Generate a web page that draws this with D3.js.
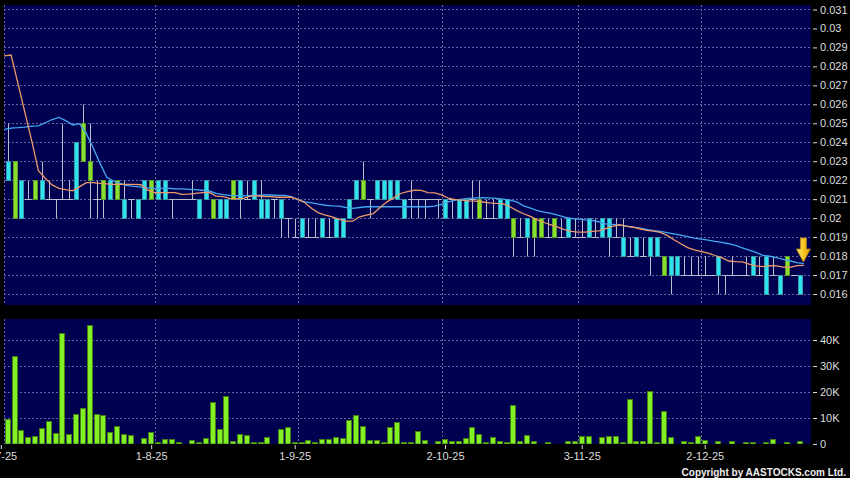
<!DOCTYPE html>
<html><head><meta charset="utf-8">
<script src="https://cdn.jsdelivr.net/npm/d3@7"></script>
<style>
html,body{margin:0;padding:0;background:#000;}
svg{display:block;font-family:"Liberation Sans",Arial,sans-serif;}
</style></head><body>
<svg id="chart" width="850" height="478"></svg>
<script>
// ---------- DATA (one entry per trading day, index 0..116) ----------
const priceOpen = [0.022,0.023,0.020,0.021,0.022,0.021,0.021,0.021,0.021,0.021,
0.021,0.025,0.023,0.021,0.022,0.021,0.022,0.020,0.021,0.020,
0.021,0.022,0.021,0.021,0.021,0.021,0.021,0.021,0.020,0.021,
0.021,0.020,0.020,0.022,0.021,0.021,0.021,0.020,0.020,0.021,
0.020,0.020,0.019,0.019,0.019,0.019,0.019,0.019,0.019,0.019,
0.020,0.021,0.022,0.021,0.021,0.021,0.021,0.021,0.020,0.021,
0.021,0.021,0.021,0.021,0.020,0.021,0.020,0.020,0.021,0.021,
0.020,0.020,0.020,0.020,0.020,0.019,0.019,0.020,0.020,0.019,
0.020,0.019,0.019,0.019,0.019,0.019,0.019,0.019,0.019,0.019,
0.018,0.018,0.018,0.018,0.018,0.018,0.018,0.017,0.017,0.017,
0.017,0.017,0.017,0.017,0.017,0.017,0.017,0.017,0.017,0.017,
0.017,0.016,0.017,0.016,0.018,0.017,0.016];
const priceHigh = [0.025,0.023,0.022,0.022,0.022,0.023,0.022,0.021,0.025,0.022,
0.024,0.026,0.025,0.022,0.022,0.022,0.022,0.022,0.021,0.021,
0.022,0.022,0.022,0.022,0.021,0.021,0.021,0.022,0.021,0.022,
0.021,0.021,0.021,0.022,0.022,0.022,0.022,0.022,0.021,0.021,
0.021,0.020,0.020,0.020,0.020,0.020,0.020,0.020,0.020,0.020,
0.021,0.022,0.023,0.021,0.022,0.022,0.022,0.022,0.021,0.022,
0.021,0.021,0.021,0.021,0.021,0.021,0.021,0.021,0.022,0.022,
0.021,0.021,0.021,0.021,0.020,0.020,0.020,0.020,0.020,0.020,
0.020,0.020,0.020,0.020,0.020,0.020,0.020,0.020,0.020,0.020,
0.020,0.019,0.019,0.019,0.019,0.019,0.018,0.018,0.018,0.018,
0.018,0.018,0.018,0.017,0.018,0.017,0.018,0.017,0.018,0.018,
0.018,0.018,0.018,0.017,0.018,0.017,0.017];
const priceLow = [0.022,0.020,0.020,0.021,0.021,0.021,0.021,0.020,0.021,0.021,
0.021,0.023,0.020,0.020,0.020,0.021,0.021,0.020,0.020,0.020,
0.021,0.021,0.021,0.021,0.020,0.021,0.021,0.021,0.020,0.021,
0.020,0.020,0.020,0.021,0.020,0.021,0.021,0.020,0.020,0.020,
0.019,0.019,0.019,0.019,0.019,0.019,0.019,0.019,0.019,0.019,
0.020,0.021,0.021,0.020,0.021,0.021,0.021,0.021,0.020,0.020,
0.020,0.020,0.021,0.020,0.020,0.020,0.020,0.020,0.020,0.020,
0.020,0.020,0.020,0.020,0.018,0.019,0.018,0.018,0.019,0.019,
0.019,0.019,0.019,0.019,0.019,0.019,0.019,0.019,0.018,0.019,
0.018,0.018,0.018,0.018,0.017,0.018,0.017,0.016,0.017,0.017,
0.017,0.017,0.017,0.017,0.016,0.016,0.017,0.017,0.017,0.017,
0.017,0.016,0.017,0.016,0.017,0.017,0.016];
const priceClose = [0.023,0.020,0.022,0.021,0.021,0.022,0.021,0.021,0.021,0.021,
0.024,0.023,0.022,0.021,0.021,0.022,0.021,0.021,0.021,0.021,
0.022,0.021,0.022,0.022,0.021,0.021,0.021,0.021,0.021,0.022,
0.020,0.021,0.021,0.021,0.022,0.021,0.022,0.021,0.021,0.021,
0.021,0.020,0.019,0.020,0.019,0.019,0.020,0.019,0.020,0.020,
0.021,0.022,0.021,0.021,0.022,0.022,0.022,0.022,0.021,0.021,
0.021,0.021,0.021,0.021,0.021,0.021,0.021,0.021,0.021,0.020,
0.020,0.020,0.021,0.021,0.019,0.019,0.020,0.019,0.019,0.019,
0.019,0.019,0.020,0.019,0.019,0.020,0.019,0.020,0.020,0.019,
0.019,0.018,0.019,0.018,0.019,0.019,0.017,0.018,0.018,0.017,
0.017,0.017,0.017,0.017,0.018,0.017,0.017,0.017,0.017,0.018,
0.017,0.018,0.017,0.017,0.017,0.017,0.017];
const volume = [9600,33800,5300,2700,2900,6200,9000,4400,42800,3800,
11400,13800,45600,11400,11000,4500,7100,3800,3500,0,
2300,4600,600,1800,1800,400,0,1700,800,2300,
16000,5800,18300,1200,3800,3300,400,800,2700,0,
5800,6700,800,600,1700,800,1900,1800,2600,2300,
9100,11200,6800,1500,1500,400,6500,8300,900,500,
5000,1700,0,1200,1800,1300,1000,2300,6400,3800,
800,2700,1000,800,15000,1000,3300,1200,0,600,
0,0,1100,1200,2900,3100,0,2700,2900,2900,
500,17200,1000,1000,20300,500,12800,2600,0,1000,
800,2900,1400,0,1000,0,1300,0,400,800,
0,500,2100,0,400,0,1000];
// moving averages: first value belongs to the day before index 0 (index -1)
const maShort = [0.02855,0.0286,0.0271,0.0256,0.0241,0.0225,0.0221,0.02175,0.02157,0.0215,0.02144,
0.02165,0.02187,0.02187,0.02183,0.02181,0.02178,0.02178,0.02178,0.02178,0.02176,
0.02148,0.02134,0.02134,0.02134,0.02134,0.02125,0.02127,0.02131,0.02134,0.02136,
0.02116,0.02113,0.02104,0.02102,0.02104,0.02116,0.02118,0.02114,0.02113,0.0211,
0.0211,0.0211,0.02098,0.02081,0.02051,0.02028,0.02016,0.02007,0.01993,0.01984,
0.01984,0.02007,0.02016,0.02024,0.02056,0.02086,0.02107,0.0213,0.0214,0.02147,
0.02146,0.02135,0.02133,0.02123,0.02105,0.02098,0.02095,0.02091,0.0209,0.02085,
0.0208,0.02078,0.02075,0.0206,0.0204,0.02023,0.02009,0.01991,0.01977,0.01965,
0.01953,0.01939,0.0193,0.01926,0.01926,0.0193,0.01933,0.01945,0.01956,0.01965,
0.01958,0.01952,0.01944,0.01936,0.01931,0.01925,0.01909,0.01886,0.01865,0.01845,
0.01833,0.01824,0.01815,0.01803,0.01792,0.01774,0.01771,0.01769,0.01757,0.01748,
0.01744,0.0175,0.01748,0.01742,0.01741,0.0175,0.01751];
const maLong = [0.02468,0.02475,0.02477,0.0248,0.02485,0.02486,0.02503,0.0252,0.02531,0.02514,0.02491,
0.02498,0.02447,0.02371,0.0229,0.02215,0.02195,0.02183,0.02171,0.02167,0.02164,
0.02159,0.02157,0.02157,0.02157,0.02155,0.02154,0.02152,0.0215,0.02147,0.02143,
0.02131,0.02124,0.0212,0.02119,0.02117,0.02119,0.0212,0.02122,0.02122,0.0212,
0.0212,0.02114,0.02098,0.02086,0.02081,0.02074,0.02068,0.02065,0.02063,0.02056,
0.02051,0.02056,0.0206,0.0206,0.0206,0.0206,0.0206,0.0206,0.0206,0.0206,
0.0206,0.0206,0.02063,0.02072,0.02086,0.02095,0.021,0.02104,0.02107,0.02108,
0.02107,0.02104,0.021,0.02095,0.02086,0.02065,0.02053,0.0204,0.02032,0.02025,
0.02016,0.02005,0.01998,0.01995,0.01991,0.01988,0.01981,0.0197,0.01967,0.01963,
0.01958,0.01953,0.01947,0.0194,0.01934,0.0193,0.01924,0.01917,0.0191,0.01902,
0.01895,0.01889,0.01884,0.01877,0.01872,0.01865,0.01856,0.01843,0.01831,0.01819,
0.01804,0.01799,0.01792,0.01783,0.01774,0.01765,0.0176];
const priceTicks = [0.016,0.017,0.018,0.019,0.020,0.021,0.022,0.023,0.024,0.025,0.026,0.027,0.028,0.029,0.030,0.031];
const volumeTicks = [0,10000,20000,30000,40000];
const dateTickIndex = [-1,21,42,64,84,102];
const dateTickLabels = ["2-7-25","1-8-25","1-9-25","2-10-25","3-11-25","2-12-25"];
const dateGridIndex = [-0.5,21.5,42.5,63.5,83.5,101.5];

// ---------- LAYOUT / STYLE ----------
const W = 850, H = 478;
const P = {l:4, r:811, t:5, b:305};
const V = {l:4, r:811, t:319, b:444};
const C = {panel:"#000050", grid:"#64649a", text:"#dcdcdc",
  up:"#2ce4f0", upStroke:"#3c9aa4", dn:"#88e02c", dnStroke:"#5c9c28",
  wick:"#bcbccc", vol:"#82f024", volStroke:"#467e16",
  maS:"#ec9a6c", maL:"#44a8f0"};

const svg = d3.select("#chart");
const x = d3.scaleLinear().domain([0,116]).range([7.67,800.4]);
const step = x(1) - x(0);
const yP = d3.scaleLinear().domain([0.016,0.031]).range([294,9.5]);
const yV = d3.scaleLinear().domain([0,40000]).range([444,340]);
const days = d3.range(priceOpen.length);
const cx = i => Math.round(x(i));
const cy = v => Math.floor(yP(v)) + 0.5;

svg.append("rect").attr("width",W).attr("height",H).attr("fill","#000");
const defs = svg.append("defs");
[["clipP",P],["clipV",V]].forEach(([id,b]) => {
  defs.append("clipPath").attr("id",id).append("rect")
    .attr("x",b.l).attr("y",b.t).attr("width",b.r-b.l).attr("height",b.b-b.t);
});
const grad = defs.append("linearGradient").attr("id","arrowGrad").attr("x1",0).attr("x2",1).attr("y1",0).attr("y2",0);
grad.append("stop").attr("offset","0%").attr("stop-color","#ffe676");
grad.append("stop").attr("offset","55%").attr("stop-color","#f7c21d");
grad.append("stop").attr("offset","100%").attr("stop-color","#d99a0c");

[P,V].forEach(b => svg.append("rect").attr("x",b.l).attr("y",b.t)
  .attr("width",b.r-b.l).attr("height",b.b-b.t).attr("fill",C.panel));

// ---------- GRID ----------
const gGridP = svg.append("g").attr("clip-path","url(#clipP)")
  .attr("stroke",C.grid).attr("stroke-width",1).attr("stroke-dasharray","2,2");
gGridP.selectAll("line.h").data(priceTicks).join("line")
  .attr("x1",P.l).attr("x2",P.r).attr("y1",d=>cy(d)).attr("y2",d=>cy(d));
gGridP.selectAll("line.v").data(dateGridIndex).join("line")
  .attr("x1",d=>Math.round(x(d))+0.5).attr("x2",d=>Math.round(x(d))+0.5)
  .attr("y1",P.t).attr("y2",P.b);

const gGridV = svg.append("g").attr("clip-path","url(#clipV)")
  .attr("stroke",C.grid).attr("stroke-width",1).attr("stroke-dasharray","2,2");
gGridV.selectAll("line.h").data(volumeTicks.filter(d=>d>0)).join("line")
  .attr("x1",V.l).attr("x2",V.r).attr("y1",d=>Math.round(yV(d))+0.5).attr("y2",d=>Math.round(yV(d))+0.5);
gGridV.selectAll("line.v").data(dateGridIndex).join("line")
  .attr("x1",d=>Math.round(x(d))+0.5).attr("x2",d=>Math.round(x(d))+0.5)
  .attr("y1",V.t).attr("y2",V.b);

// ---------- CANDLES ----------
const gC = svg.append("g").attr("clip-path","url(#clipP)");
gC.selectAll("line.wick").data(days.filter(i=>priceHigh[i]>priceLow[i])).join("line")
  .attr("x1",i=>cx(i)+0.5).attr("x2",i=>cx(i)+0.5)
  .attr("y1",i=>cy(priceHigh[i])).attr("y2",i=>cy(priceLow[i]))
  .attr("stroke",C.wick).attr("stroke-width",1);
gC.selectAll("line.doji").data(days.filter(i=>priceOpen[i]===priceClose[i])).join("line")
  .attr("x1",i=>cx(i)+0.5-step/2).attr("x2",i=>cx(i)+0.5+step/2)
  .attr("y1",i=>cy(priceOpen[i])).attr("y2",i=>cy(priceOpen[i]))
  .attr("stroke",C.wick).attr("stroke-width",1);
gC.selectAll("rect.body").data(days.filter(i=>priceOpen[i]!==priceClose[i])).join("rect")
  .attr("x",i=>cx(i)-1.5).attr("width",4)
  .attr("y",i=>cy(Math.max(priceOpen[i],priceClose[i])))
  .attr("height",i=>cy(Math.min(priceOpen[i],priceClose[i]))-cy(Math.max(priceOpen[i],priceClose[i])))
  .attr("fill",i=>priceClose[i]>priceOpen[i]?C.up:C.dn)
  .attr("stroke",i=>priceClose[i]>priceOpen[i]?C.upStroke:C.dnStroke).attr("stroke-width",1);

// ---------- MOVING AVERAGES ----------
const maLine = d3.line().x((d,i)=>x(i-1)+step/2).y(d=>yP(d));
gC.append("path").attr("d",maLine(maLong)).attr("fill","none").attr("stroke",C.maL).attr("stroke-width",1.3);
gC.append("path").attr("d",maLine(maShort)).attr("fill","none").attr("stroke",C.maS).attr("stroke-width",1.3);

// ---------- ARROW (last day marker) ----------
const lastDay = priceOpen.length-1;
const arrowX = x(lastDay)+3, arrowTip = yP(priceHigh[lastDay])-13, arrowTop = arrowTip-24;
svg.append("path")
  .attr("d",`M${arrowX-3},${arrowTop}H${arrowX+3}V${arrowTop+11}H${arrowX+7}L${arrowX},${arrowTip}L${arrowX-7},${arrowTop+11}H${arrowX-3}Z`)
  .attr("fill","url(#arrowGrad)").attr("stroke","#b8820e").attr("stroke-width",0.8);

// ---------- VOLUME ----------
const gVol = svg.append("g").attr("clip-path","url(#clipV)");
gVol.selectAll("rect").data(days.filter(i=>volume[i]>0)).join("rect")
  .attr("x",i=>cx(i)-2.5).attr("width",5)
  .attr("y",i=>Math.min(Math.round(yV(volume[i]))+0.5, V.b-1.5))
  .attr("height",i=>V.b-Math.min(Math.round(yV(volume[i]))+0.5, V.b-1.5))
  .attr("fill",C.vol).attr("stroke",C.volStroke).attr("stroke-width",1);

// ---------- AXES ----------
function styleAxis(g){
  g.select(".domain").remove();
  g.attr("font-size",11).attr("font-family",'"Liberation Sans",Arial,sans-serif').attr("color",C.text);
}
svg.append("g").attr("transform","translate(813,0)")
  .call(d3.axisRight(yP).tickValues(priceTicks).tickFormat(d3.format(".3~f")).tickSize(4).tickPadding(3))
  .call(styleAxis);
svg.append("g").attr("transform","translate(813,0)")
  .call(d3.axisRight(yV).tickValues(volumeTicks).tickFormat(d=>d===0?"0":(d/1000)+"K").tickSize(4).tickPadding(3))
  .call(styleAxis);
svg.append("g").attr("transform","translate(0,445)")
  .call(d3.axisBottom(x).tickValues(dateTickIndex).tickFormat((d,i)=>dateTickLabels[i]).tickSize(4).tickPadding(3))
  .call(styleAxis);

svg.append("text").attr("x",846).attr("y",476).attr("text-anchor","end")
  .attr("font-size",10).attr("font-weight","bold").attr("fill","#eeeeee")
  .text("Copyright by AASTOCKS.com Ltd.");
</script>
</body></html>
